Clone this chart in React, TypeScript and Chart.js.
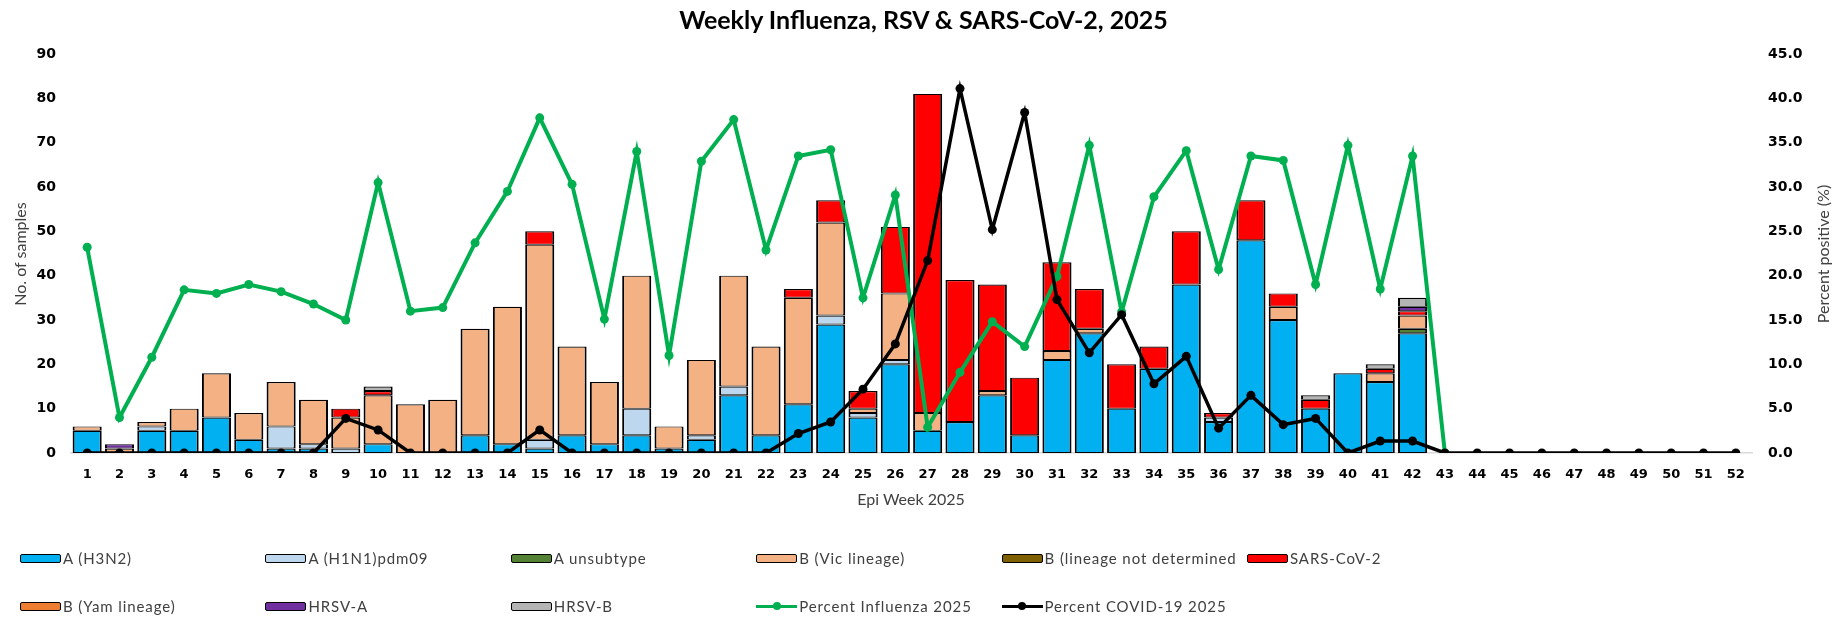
import React, { useEffect, useRef } from "react";
import { Chart, registerables } from "chart.js";

Chart.register(...registerables);

const weeks = [
  "1","2","3","4","5","6","7","8","9","10","11","12","13","14","15","16","17","18","19","20",
  "21","22","23","24","25","26","27","28","29","30","31","32","33","34","35","36","37","38","39","40",
  "41","42","43","44","45","46","47","48","49","50","51","52",
];

const h3n2 = [5,0,5,5,8,3,1,1,0,2,0,0,4,2,1,4,2,4,1,3,13,4,11,29,8,20,5,7,13,4,21,27,10,19,38,7,48,30,10,18,16,27,0,0,0,0,0,0,0,0,0,0];
const h1n1 = [0,0,1,0,0,0,5,1,1,0,0,0,0,0,2,0,0,6,0,1,2,0,0,2,1,1,0,0,0,0,0,0,0,0,0,1,0,0,0,0,0,0,0,0,0,0,0,0,0,0,0,0];
const aUnsub = [0,0,0,0,0,0,0,0,0,0,0,0,0,0,0,0,0,0,0,0,0,0,0,0,0,0,0,0,0,0,0,0,0,0,0,0,0,0,0,0,0,1,0,0,0,0,0,0,0,0,0,0];
const bVic = [1,1,1,5,10,6,10,10,7,11,11,12,24,31,44,20,14,30,5,17,25,20,24,21,1,15,4,0,1,0,2,1,0,0,0,0,0,3,0,0,2,3,0,0,0,0,0,0,0,0,0,0];
const bNotDet = [0,0,0,0,0,0,0,0,0,0,0,0,0,0,0,0,0,0,0,0,0,0,0,0,0,0,0,0,0,0,0,0,0,0,0,0,0,0,0,0,0,0,0,0,0,0,0,0,0,0,0,0];
const sarsCov2 = [0,0,0,0,0,0,0,0,2,1,0,0,0,0,3,0,0,0,0,0,0,0,2,5,4,15,72,32,24,13,20,9,10,5,12,1,9,3,2,0,1,1,0,0,0,0,0,0,0,0,0,0];
const bYam = [0,0,0,0,0,0,0,0,0,0,0,0,0,0,0,0,0,0,0,0,0,0,0,0,0,0,0,0,0,0,0,0,0,0,0,0,0,0,0,0,0,0,0,0,0,0,0,0,0,0,0,0];
const hrsvA = [0,1,0,0,0,0,0,0,0,0,0,0,0,0,0,0,0,0,0,0,0,0,0,0,0,0,0,0,0,0,0,0,0,0,0,0,0,0,0,0,0,1,0,0,0,0,0,0,0,0,0,0];
const hrsvB = [0,0,0,0,0,0,0,0,0,1,0,0,0,0,0,0,0,0,0,0,0,0,0,0,0,0,0,0,0,0,0,0,0,0,0,0,0,0,1,0,1,2,0,0,0,0,0,0,0,0,0,0];

const pctInfluenza = [23.2,4.0,10.8,18.4,18.0,19.0,18.2,16.8,15.0,30.5,16.0,16.4,23.7,29.5,37.8,30.3,15.1,34.0,11.0,32.9,37.6,22.9,33.5,34.2,17.5,29.1,2.9,9.1,14.8,12.0,19.9,34.7,15.9,28.9,34.1,20.7,33.5,33.0,19.0,34.7,18.5,33.5,0,null,null,null,null,null,null,null,null,null];
const pctCovid = [0,0,0,0,0,0,0,0,3.9,2.6,0,0,0,0,2.6,0,0,0,0,0,0,0,2.2,3.5,7.2,12.3,21.7,41.1,25.2,38.4,17.3,11.3,15.6,7.8,10.9,2.8,6.5,3.2,3.9,0,1.35,1.35,0,0,0,0,0,0,0,0,0,0];

const leftTicks = [0, 90, 10];
const rightTicks = [0, 45, 5];

const barSeries = [
  { label: "A (H3N2)", data: h3n2, color: "#00B0F0" },
  { label: "A (H1N1)pdm09", data: h1n1, color: "#BDD7EE" },
  { label: "A unsubtype", data: aUnsub, color: "#548235" },
  { label: "B (Vic lineage)", data: bVic, color: "#F4B183" },
  { label: "B (lineage not determined", data: bNotDet, color: "#7F6000" },
  { label: "SARS-CoV-2", data: sarsCov2, color: "#FF0000" },
  { label: "B (Yam lineage)", data: bYam, color: "#ED7D31" },
  { label: "HRSV-A", data: hrsvA, color: "#7030A0" },
  { label: "HRSV-B", data: hrsvB, color: "#B4B4B4" },
];

const lineSeries = [
  { label: "Percent Influenza 2025", data: pctInfluenza, color: "#00B050", width: 4 },
  { label: "Percent COVID-19 2025", data: pctCovid, color: "#000000", width: 3.5 },
];

const tickFont = { family: "'DejaVu Sans', Verdana, sans-serif", weight: "bold" as const, size: 14 };
const textFont = "Lato, 'Open Sans', sans-serif";

export default function App() {
  const ref = useRef<HTMLCanvasElement>(null);

  useEffect(() => {
    document.body.style.margin = "0";
    const canvas = ref.current;
    if (!canvas) return;
    const datasets: any[] = [
      ...barSeries.map((s) => ({
        type: "bar",
        label: s.label,
        data: s.data.map((v) => (v === 0 ? null : v)),
        backgroundColor: s.color,
        borderColor: "#000000",
        borderWidth: { top: 1.2, bottom: 1, left: 2, right: 2 },
        borderSkipped: false,
        inflateAmount: 0,
        yAxisID: "y",
        order: 2,
        barPercentage: 0.9,
        categoryPercentage: 1,
      })),
      ...lineSeries.map((s, i) => ({
        type: "line",
        label: s.label,
        data: s.data,
        borderColor: s.color,
        backgroundColor: s.color,
        borderWidth: s.width,
        pointRadius: 4.5,
        pointBorderWidth: 0,
        pointBackgroundColor: s.color,
        tension: 0,
        spanGaps: false,
        yAxisID: "y1",
        order: 1 - i,
      })),
    ];
    const chart = new Chart(canvas, {
      type: "bar",
      data: { labels: weeks, datasets },
      options: {
        responsive: false,
        animation: false,
        devicePixelRatio: 1,
        layout: { padding: { top: 54, bottom: 125, left: 0, right: 0 } },
        plugins: {
          legend: { display: false },
          title: { display: false },
          tooltip: { enabled: false },
        },
        scales: {
          x: {
            stacked: true,
            grid: { display: false, drawTicks: false },
            border: { display: true, color: "#D9D9D9", width: 1.5 },
            ticks: {
              font: { ...tickFont, size: 13 },
              color: "#000000",
              padding: 14,
              maxRotation: 0,
              autoSkip: false,
            },
            afterFit: (s: any) => {
              s.height = 40;
            },
          },
          y: {
            stacked: true,
            position: "left",
            min: leftTicks[0],
            max: leftTicks[1],
            ticks: { stepSize: leftTicks[2], font: tickFont, color: "#000000", padding: 15 },
            grid: { display: false, drawTicks: false },
            border: { display: false },
            afterFit: (s: any) => {
              s.width = 71;
            },
          },
          y1: {
            position: "right",
            min: rightTicks[0],
            max: rightTicks[1],
            ticks: {
              stepSize: rightTicks[2],
              font: tickFont,
              color: "#000000",
              padding: 16,
              callback: (v: any) => Number(v).toFixed(1),
            },
            grid: { display: false, drawTicks: false },
            border: { display: false },
            afterFit: (s: any) => {
              s.width = 91;
            },
          },
        },
      } as any,
    });
    return () => chart.destroy();
  }, []);

  const legendItems = [
    ...barSeries.map((s) => ({ label: s.label, color: s.color, kind: "bar" })),
    ...lineSeries.map((s) => ({ label: s.label, color: s.color, kind: "line" })),
  ];
  const colX = 20;
  const colStep = 245.4;
  const rowY = [558, 606];

  return (
    <div style={{ position: "relative", width: 1843, height: 618, background: "#ffffff", overflow: "hidden" }}>
      <canvas ref={ref} width={1843} height={618} style={{ position: "absolute", left: 0, top: 0, width: 1843, height: 618 }} />
      <div
        style={{
          position: "absolute", left: 0, width: 1843, top: 3, height: 32, lineHeight: "32px",
          textAlign: "center", fontFamily: textFont, fontWeight: 700, fontSize: 25, color: "#000",
          paddingLeft: 2,
        }}
      >
        Weekly Influenza, RSV &amp; SARS-CoV-2, 2025
      </div>
      <div
        style={{
          position: "absolute", left: 20 - 100, top: 253.5 - 10, width: 200, height: 20, lineHeight: "20px",
          textAlign: "center", fontFamily: textFont, fontSize: 16, color: "#404040",
          transform: "rotate(-90deg)",
        }}
      >
        No. of samples
      </div>
      <div
        style={{
          position: "absolute", left: 1823 - 100, top: 254 - 10, width: 200, height: 20, lineHeight: "20px",
          textAlign: "center", fontFamily: textFont, fontSize: 16, color: "#404040",
          transform: "rotate(-90deg)",
        }}
      >
        Percent positive (%)
      </div>
      <div
        style={{
          position: "absolute", left: 911 - 150, top: 499 - 10, width: 300, height: 20, lineHeight: "20px",
          textAlign: "center", fontFamily: textFont, fontSize: 16, color: "#404040",
        }}
      >
        Epi Week 2025
      </div>
      {legendItems.map((it, i) => {
        const col = i % 6;
        const row = Math.floor(i / 6);
        const x = colX + col * colStep;
        const y = rowY[row];
        return (
          <div
            key={it.label}
            style={{
              position: "absolute", left: x, top: y - 10, height: 20, display: "flex", alignItems: "center",
              fontFamily: textFont, fontSize: 15, letterSpacing: 0.9, color: "#404040", whiteSpace: "nowrap",
            }}
          >
            {it.kind === "bar" ? (
              <div
                style={{
                  width: 41, height: 9, boxSizing: "border-box", background: it.color,
                  border: "1.5px solid #000", borderRadius: 2, marginRight: 2, flex: "none",
                }}
              />
            ) : (
              <div style={{ position: "relative", width: 41, height: 9, marginRight: 2, flex: "none" }}>
                <div style={{ position: "absolute", left: 0, right: 0, top: 3, height: 3.5, background: it.color }} />
                <div
                  style={{
                    position: "absolute", left: 16.5, top: 0.5, width: 8, height: 8, borderRadius: 4, background: it.color,
                  }}
                />
              </div>
            )}
            <span>{it.label}</span>
          </div>
        );
      })}
    </div>
  );
}
